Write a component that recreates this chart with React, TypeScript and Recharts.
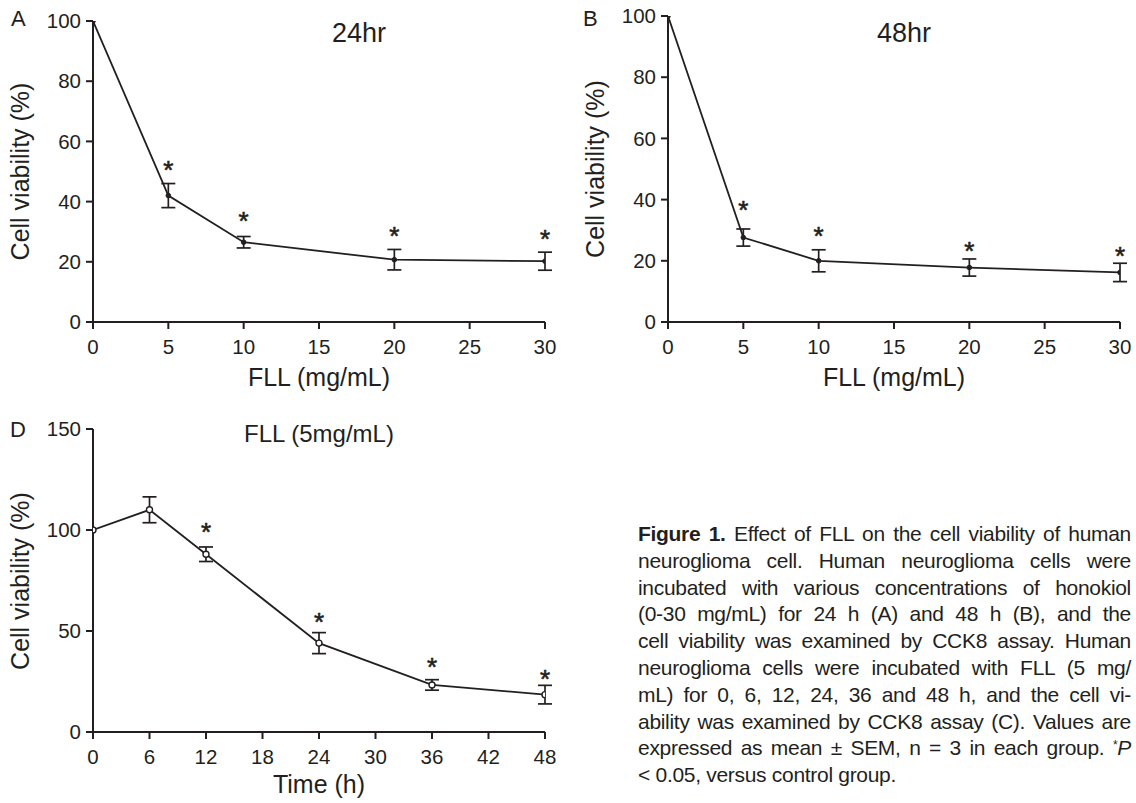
import React from 'react';
import { LineChart, Line, XAxis, YAxis, ErrorBar } from 'recharts';

// ---------- data ----------
// Panel A: 24 hr
const concA = [0, 5, 10, 20, 30];
const viabilityA = [100, 42, 26.5, 20.7, 20.2];
const semA = [0, 4, 1.9, 3.4, 3];
const starA = [null, 52.5, 35.6, 30.6, 29.6];

// Panel B: 48 hr
const concB = [0, 5, 10, 20, 30];
const viabilityB = [100, 27.6, 20, 17.8, 16.2];
const semB = [0, 2.8, 3.6, 2.8, 3];
const starB = [null, 38.5, 30, 25.1, 23.5];

// Panel D: FLL 5 mg/mL over time
const timeD = [0, 6, 12, 24, 36, 48];
const viabilityD = [100, 110, 88, 44, 23.3, 18.5];
const semD = [0, 6.4, 3.6, 5.2, 2.6, 4.6];
const starD = [null, null, 101.8, 57.6, 35.4, 29.2];

const concTicks = [0, 5, 10, 15, 20, 25, 30];
const viabTicksAB = [0, 20, 40, 60, 80, 100];
const timeTicks = [0, 6, 12, 18, 24, 30, 36, 42, 48];
const viabTicksD = [0, 50, 100, 150];

const captionLines = [
  'neuroglioma cell. Human neuroglioma cells were',
  'incubated with various concentrations of honokiol',
  '(0-30 mg/mL) for 24 h (A) and 48 h (B), and the',
  'cell viability was examined by CCK8 assay. Human',
  'neuroglioma cells were incubated with FLL (5 mg/',
  'mL) for 0, 6, 12, 24, 36 and 48 h, and the cell vi-',
  'ability was examined by CCK8 assay (C). Values are',
];

// ---------- styling ----------
const FONT = '"Liberation Sans", Arial, Helvetica, sans-serif';
const INK = '#231f20';

const rows = (xs: number[], vs: number[], es: number[], ss: (number | null)[]) =>
  xs.map((x, i) => ({ x, v: vs[i], e: es[i], s: ss[i] }));

const STAR_FS = 26;
const renderStar = (p: any) => {
  const { x, y, value } = p;
  if (value == null || x == null || y == null || Number.isNaN(y)) return null;
  return (
    <text
      x={x}
      y={y + STAR_FS * 0.58}
      textAnchor="middle"
      fontSize={STAR_FS}
      fontFamily={FONT}
      fill={INK}
      stroke={INK}
      strokeWidth={0.6}
    >
      *
    </text>
  );
};

const axisStroke = { stroke: INK, strokeWidth: 2 };
const tickStyle = { fill: INK, fontSize: 20.5, fontFamily: FONT };

type PanelProps = {
  left: number;
  top: number;
  width: number;
  height: number;
  data: any[];
  xDomain: [number, number];
  xTicks: number[];
  yDomain: [number, number];
  yTicks: number[];
  yAxisWidth: number;
  marginTop: number;
  marginRight: number;
  xAxisHeight: number;
  letter: string;
  letterX: number;
  letterY: number;
  title: string;
  titleX: number;
  titleY: number;
  titleSize: number;
  xLabel: string;
  xLabelX: number;
  xLabelY: number;
  yLabelX: number;
  yLabelY: number;
  openDots?: boolean;
};

function Panel(p: PanelProps) {
  return (
    <div style={{ position: 'absolute', left: p.left, top: p.top, width: p.width, height: p.height }}>
      <LineChart
        width={p.width}
        height={p.height}
        data={p.data}
        margin={{ top: p.marginTop, right: p.marginRight, left: 0, bottom: 0 }}
      >
        <XAxis
          type="number"
          dataKey="x"
          domain={p.xDomain}
          ticks={p.xTicks}
          interval={0}
          height={p.xAxisHeight}
          tickSize={7}
          tickMargin={10}
          axisLine={axisStroke}
          tickLine={axisStroke}
          tick={tickStyle}
          allowDataOverflow
        />
        <YAxis
          type="number"
          domain={p.yDomain}
          ticks={p.yTicks}
          interval={0}
          width={p.yAxisWidth}
          tickSize={7}
          tickMargin={5}
          axisLine={axisStroke}
          tickLine={axisStroke}
          tick={tickStyle}
          allowDataOverflow
        />
        <Line
          dataKey="v"
          stroke={INK}
          strokeWidth={1.8}
          type="linear"
          isAnimationActive={false}
          dot={
            p.openDots
              ? { r: 3, fill: '#fff', stroke: INK, strokeWidth: 1.4 }
              : { r: 2.3, fill: INK, stroke: INK, strokeWidth: 1 }
          }
          activeDot={false}
        >
          <ErrorBar dataKey="e" width={7} strokeWidth={1.7} stroke={INK} direction="y" />
        </Line>
        <Line
          dataKey="s"
          stroke="none"
          dot={false}
          activeDot={false}
          isAnimationActive={false}
          label={renderStar}
        />
        <text x={p.letterX} y={p.letterY} fontSize={22} fontFamily={FONT} fill={INK}>
          {p.letter}
        </text>
        <text x={p.titleX} y={p.titleY} fontSize={p.titleSize} fontFamily={FONT} fill={INK} textAnchor="middle">
          {p.title}
        </text>
        <text x={p.xLabelX} y={p.xLabelY} fontSize={25} fontFamily={FONT} fill={INK} textAnchor="middle">
          {p.xLabel}
        </text>
        <text
          x={p.yLabelX}
          y={p.yLabelY}
          fontSize={25}
          fontFamily={FONT}
          fill={INK}
          textAnchor="middle"
          dominantBaseline="central"
          transform={`rotate(-90 ${p.yLabelX} ${p.yLabelY})`}
        >
          Cell viability (%)
        </text>
      </LineChart>
    </div>
  );
}

const lineStyle: React.CSSProperties = {
  textAlign: 'justify',
  textAlignLast: 'justify' as any,
  whiteSpace: 'nowrap',
  height: 26.8,
  lineHeight: '26.8px',
};

export default function App() {
  return (
    <div
      style={{
        position: 'absolute',
        left: 0,
        top: 0,
        width: 1136,
        height: 803,
        background: '#fff',
        overflow: 'hidden',
      }}
    >
      <Panel
        left={0}
        top={0}
        width={570}
        height={400}
        data={rows(concA, viabilityA, semA, starA)}
        xDomain={[0, 30]}
        xTicks={concTicks}
        yDomain={[0, 100]}
        yTicks={viabTicksAB}
        yAxisWidth={93}
        marginTop={21}
        marginRight={25}
        xAxisHeight={78}
        letter="A"
        letterX={11}
        letterY={26}
        title="24hr"
        titleX={359}
        titleY={42}
        titleSize={27}
        xLabel="FLL (mg/mL)"
        xLabelX={319}
        xLabelY={386}
        yLabelX={20}
        yLabelY={171.5}
      />
      <Panel
        left={570}
        top={0}
        width={566}
        height={400}
        data={rows(concB, viabilityB, semB, starB)}
        xDomain={[0, 30]}
        xTicks={concTicks}
        yDomain={[0, 100]}
        yTicks={viabTicksAB}
        yAxisWidth={98}
        marginTop={16}
        marginRight={16}
        xAxisHeight={78}
        letter="B"
        letterX={13}
        letterY={26}
        title="48hr"
        titleX={334}
        titleY={42}
        titleSize={27}
        xLabel="FLL (mg/mL)"
        xLabelX={324}
        xLabelY={386}
        yLabelX={25}
        yLabelY={169}
      />
      <Panel
        left={0}
        top={400}
        width={570}
        height={403}
        data={rows(timeD, viabilityD, semD, starD)}
        xDomain={[0, 48]}
        xTicks={timeTicks}
        yDomain={[0, 150]}
        yTicks={viabTicksD}
        yAxisWidth={93}
        marginTop={29}
        marginRight={25}
        xAxisHeight={71}
        letter="D"
        letterX={10}
        letterY={37}
        title="FLL (5mg/mL)"
        titleX={319}
        titleY={42}
        titleSize={24}
        xLabel="Time (h)"
        xLabelX={319}
        xLabelY={393}
        yLabelX={20}
        yLabelY={181}
        openDots
      />
      <div
        style={{
          position: 'absolute',
          left: 638,
          top: 521,
          width: 493,
          fontFamily: FONT,
          fontSize: 21,
          letterSpacing: -0.3,
          color: INK,
        }}
      >
        <div style={lineStyle}>
          <b>Figure 1.</b> Effect of FLL on the cell viability of human
        </div>
        {captionLines.map((t) => (
          <div key={t} style={lineStyle}>
            {t}
          </div>
        ))}
        <div style={lineStyle}>
          expressed as mean ± SEM, n = 3 in each group.{' '}
          <sup style={{ fontSize: 12, verticalAlign: 'top', lineHeight: '20px' }}>*</sup>
          <i>P</i>
        </div>
        <div style={{ ...lineStyle, textAlignLast: 'left' as any, textAlign: 'left' }}>&lt; 0.05, versus control group.</div>
      </div>
    </div>
  );
}
